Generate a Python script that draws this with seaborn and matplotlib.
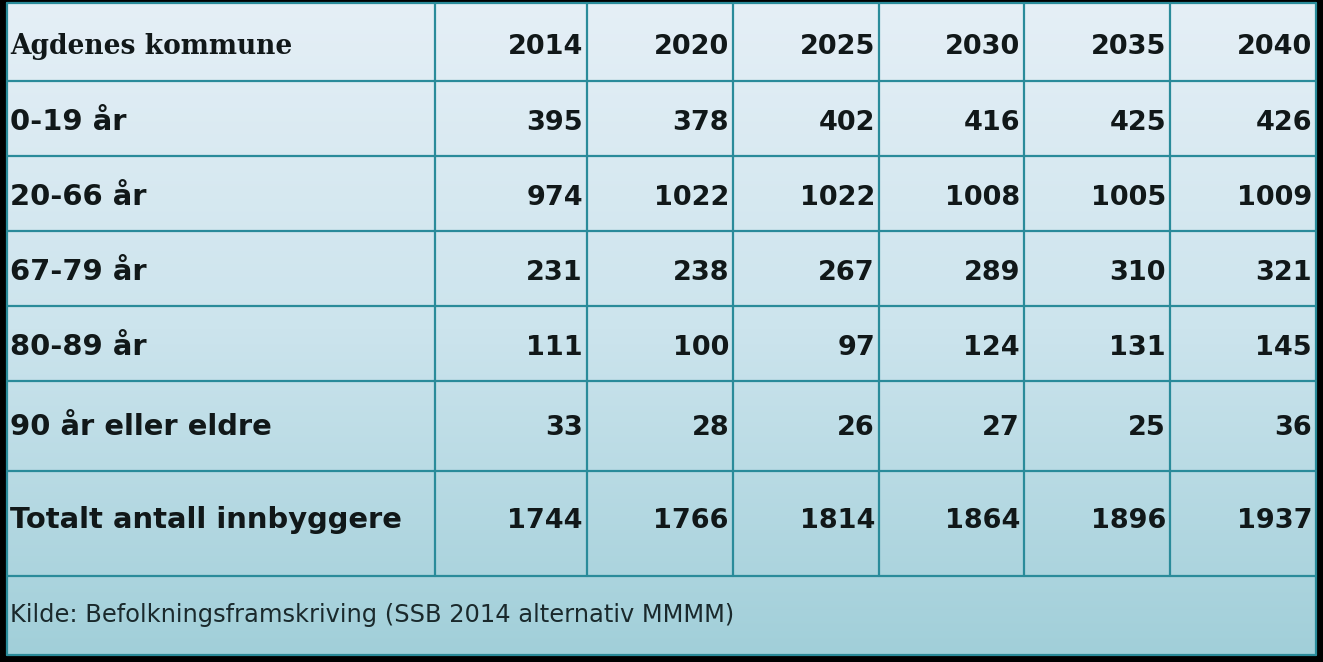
import numpy as np
import matplotlib
matplotlib.use('Agg')
import matplotlib.pyplot as plt
import seaborn as sns
from matplotlib.colors import LinearSegmentedColormap

sns.set_theme(style='white')
plt.rcParams['font.family'] = ['DejaVu Sans']

title = 'Agdenes kommune'
years = ['2014', '2020', '2025', '2030', '2035', '2040']
groups = ['0-19 år', '20-66 år', '67-79 år', '80-89 år', '90 år eller eldre', 'Totalt antall innbyggere']
age_0_19 = [395, 378, 402, 416, 425, 426]
age_20_66 = [974, 1022, 1022, 1008, 1005, 1009]
age_67_79 = [231, 238, 267, 289, 310, 321]
age_80_89 = [111, 100, 97, 124, 131, 145]
age_90 = [33, 28, 26, 27, 25, 36]
total = [1744, 1766, 1814, 1864, 1896, 1937]
source = 'Kilde: Befolkningsframskriving (SSB 2014 alternativ MMMM)'

rows = [age_0_19, age_20_66, age_67_79, age_80_89, age_90, total]

# layout in pixels
W, H = 1323, 662
col_edges = [7, 435, 587, 733, 879, 1024, 1170, 1316]
row_edges = [3, 81, 156, 231, 306, 381, 471, 576, 655]
baselines = [54, 130, 205, 280, 355, 435, 528, 622]
line_col = '#2a8b9a'
txt_col = '#111819'

fig = plt.figure(figsize=(W / 100, H / 100), dpi=100, facecolor='black')
ax = fig.add_axes([0, 0, 1, 1])
ax.set_xlim(0, W)
ax.set_ylim(H, 0)
ax.axis('off')

# vertical gradient background
cmap = LinearSegmentedColormap.from_list('bg', ['#e5eff6', '#cce4ed', '#a1cfd9'])
grad = np.linspace(0, 1, 256).reshape(-1, 1)
ax.imshow(grad, cmap=cmap, aspect='auto',
          extent=(col_edges[0], col_edges[-1], row_edges[-1], row_edges[0]), zorder=0)

# grid
for y in row_edges:
    ax.plot([col_edges[0], col_edges[-1]], [y, y], color=line_col, lw=1.6, zorder=2)
for x in col_edges:
    y1 = row_edges[-1] if x in (col_edges[0], col_edges[-1]) else row_edges[-2]
    ax.plot([x, x], [row_edges[0], y1], color=line_col, lw=1.6, zorder=2)

pad = 4
ax.text(col_edges[0] + 3, baselines[0], title, family=['DejaVu Serif'],
        fontsize=19.1, fontweight='bold', color=txt_col, ha='left', va='baseline')
for j, yr in enumerate(years):
    ax.text(col_edges[j + 2] - pad, baselines[0], yr, fontsize=19.5, fontweight='bold',
            color=txt_col, ha='right', va='baseline')

for i, (lab, vals) in enumerate(zip(groups, rows)):
    yb = baselines[i + 1]
    ax.text(col_edges[0] + 3, yb, lab, fontsize=20.9, fontweight='bold',
            color=txt_col, ha='left', va='baseline')
    for j, v in enumerate(vals):
        ax.text(col_edges[j + 2] - pad, yb, str(v), fontsize=19.5, fontweight='bold',
                color=txt_col, ha='right', va='baseline')

ax.text(col_edges[0] + 3, baselines[7], source, fontsize=17.4, color='#1a292c',
        ha='left', va='baseline')

fig.savefig('out.png', dpi=100, facecolor='black')
